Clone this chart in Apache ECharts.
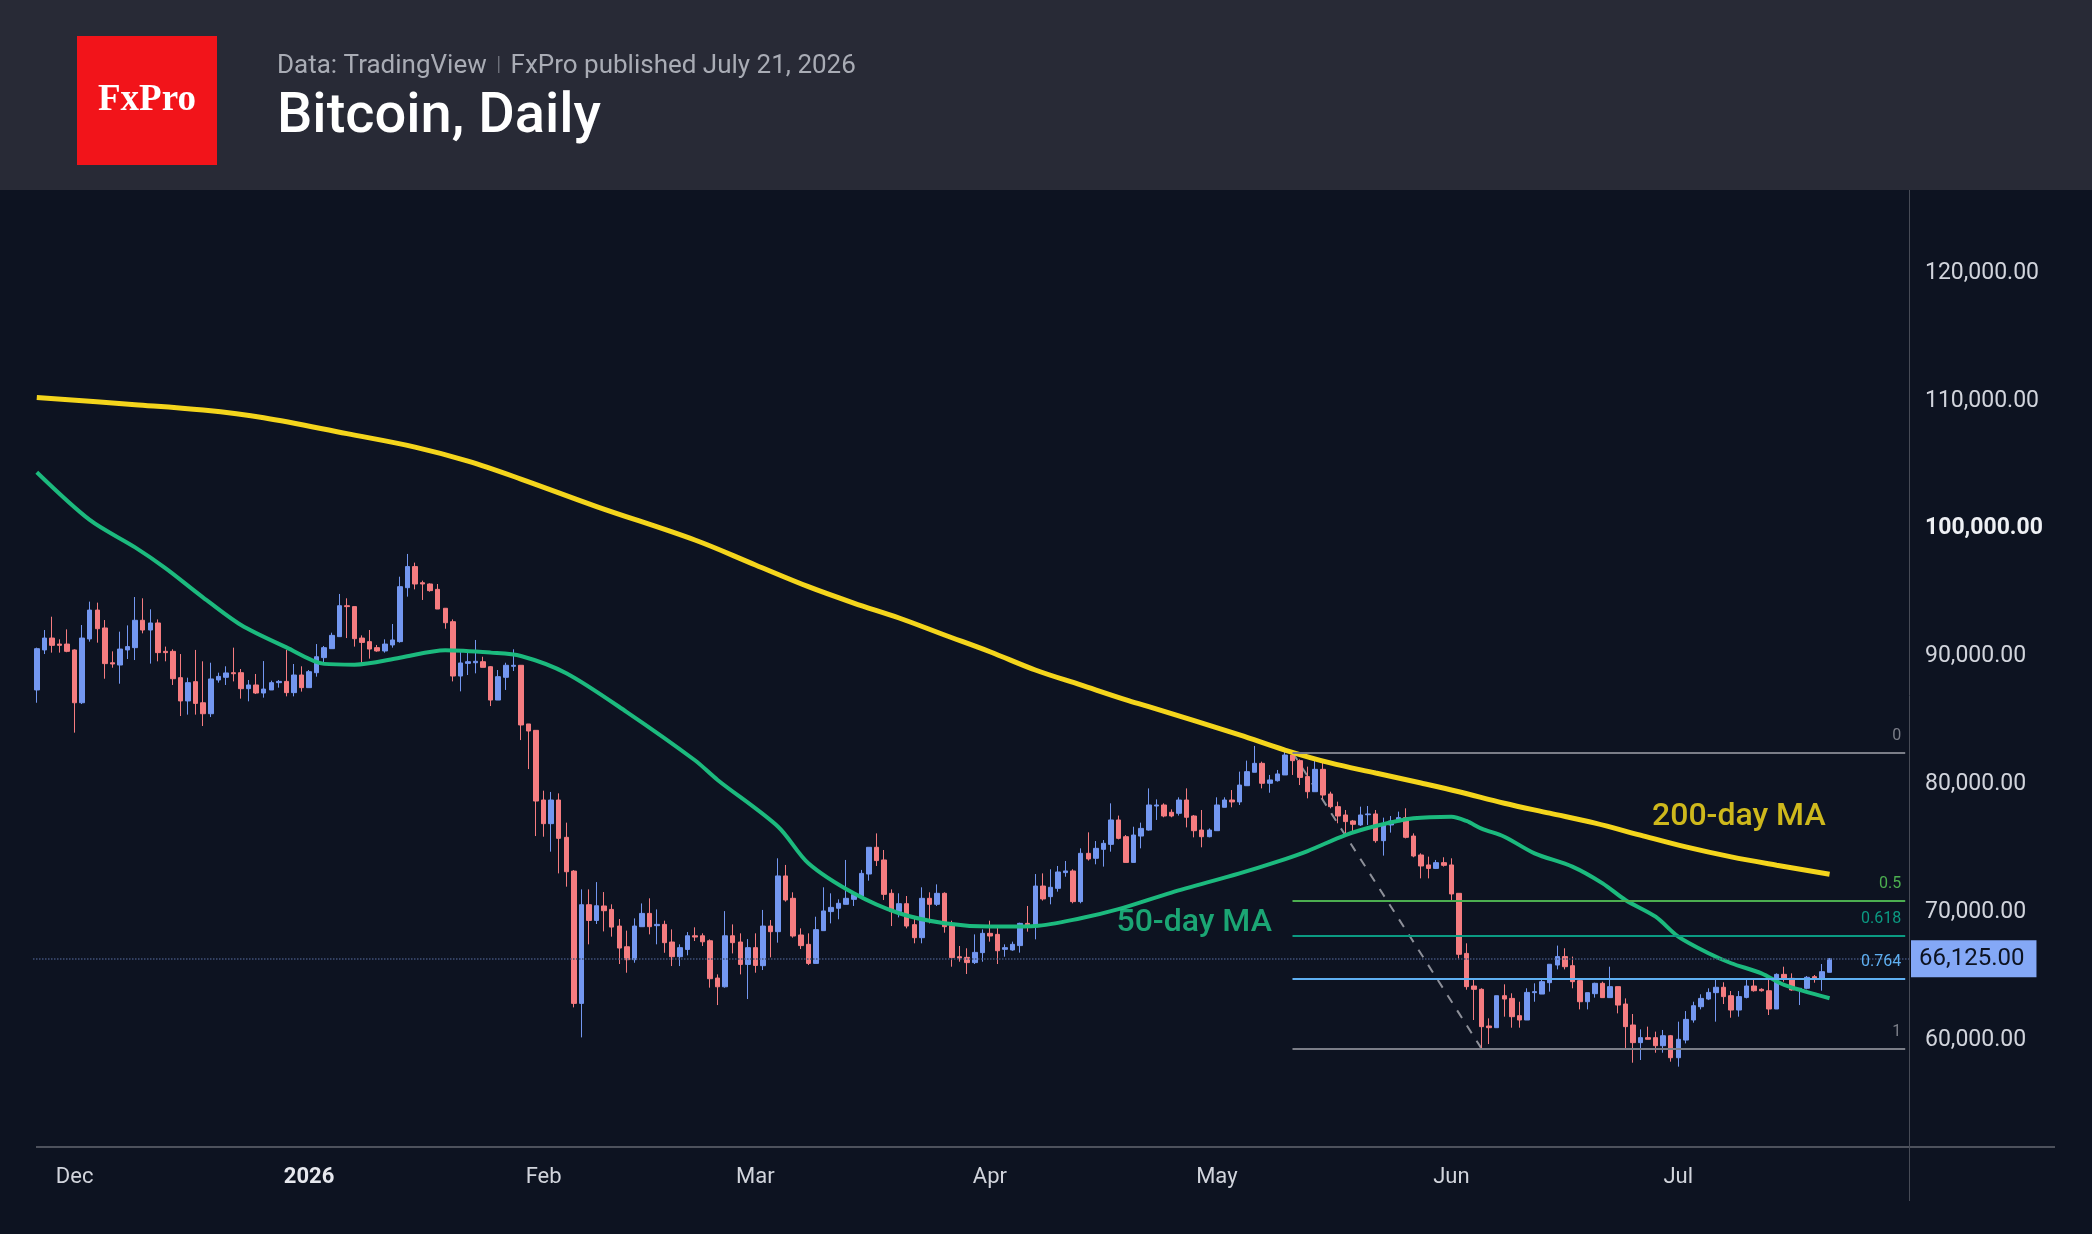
<!DOCTYPE html>
<html>
<head>
<meta charset="utf-8">
<title>Bitcoin, Daily</title>
<script src="https://cdn.jsdelivr.net/npm/echarts@6/dist/echarts.min.js"></script>
<style>
  html, body { margin: 0; padding: 0; background: #0d1321; }
  #chart { width: 2092px; height: 1234px; }
</style>
</head>
<body>
<div id="chart"></div>
<script>
// daily candles, first one on 2025-11-26, last one on 2026-07-21
// each row: [open, high, low, close]
const ohlc = [
  [87150, 90460, 86150, 90380], [90280, 91840, 89960, 91210], [91210, 92880, 90070, 90640], [90740, 91110, 90070, 90640], [90740, 91890, 90100, 90170],
  // Dec
  [90280, 90330, 83810, 86150], [86150, 92230, 86050, 91210], [91140, 94060, 90930, 93400], [93400, 93980, 90850, 91940], [92000, 92620, 88030, 89210],
  [89280, 90170, 88890, 89180], [89100, 91710, 87640, 90350], [90280, 92200, 89570, 90540], [90460, 94420, 89490, 92600], [92600, 94320, 91580, 91840],
  [91840, 93460, 89210, 92390], [92390, 92670, 89390, 90070], [90170, 90540, 89390, 90070], [90170, 90330, 87540, 88030], [88110, 89960, 85110, 86290],
  [86290, 88110, 85220, 87720], [87800, 90280, 85220, 86100], [86150, 89390, 84330, 85290], [85290, 89280, 85030, 88010], [87930, 88500, 87720, 88210],
  [88140, 89000, 87540, 88480], [88500, 90460, 87820, 88420], [88500, 88790, 86470, 87250], [87250, 87930, 86260, 87540], [87540, 88400, 86830, 86910],
  [86910, 89410, 86550, 87220], [87150, 87880, 87150, 87720], [87720, 87930, 87330, 87820], [87820, 90280, 86650, 86940], [86940, 89180, 86650, 88320],
  [88320, 89000, 87020, 87330],
  // Jan
  [87330, 88710, 87330, 88580], [88500, 90740, 88190, 89750], [89680, 90590, 89280, 90460], [90380, 91630, 90380, 91420], [91320, 94660, 91320, 93740],
  [93740, 94320, 91210, 93670], [93670, 93670, 90540, 91160], [91210, 91420, 89210, 90870], [90930, 91840, 89600, 90350], [90460, 90670, 90140, 90200],
  [90200, 91110, 90070, 90740], [90670, 92310, 90460, 91060], [90930, 96010, 90850, 95230], [95150, 97790, 94450, 96800], [96800, 97110, 95020, 95440],
  [95540, 95700, 94190, 95440], [95440, 95490, 94840, 94920], [95020, 95440, 93480, 93480], [93540, 93540, 91940, 92410], [92490, 92670, 87820, 88240],
  [88240, 90330, 87040, 89260], [89230, 90140, 88320, 89360], [89280, 91060, 88450, 89390], [89360, 89750, 88920, 88920], [88970, 89020, 85890, 86360],
  [86360, 88710, 86360, 88190], [88140, 89280, 87150, 89080], [89000, 90330, 88630, 89080], [89080, 89080, 83230, 84410], [84490, 84490, 80960, 83940],
  [83990, 83990, 75720, 78460],
  // Feb
  [78540, 79270, 75670, 76690], [76690, 79170, 74500, 78540], [78540, 79060, 72800, 75540], [75620, 76770, 71760, 72930], [72980, 73060, 62320, 62630],
  [62630, 71550, 59970, 70350], [70350, 71550, 67250, 69120], [69120, 72120, 68840, 70270], [70250, 71340, 68260, 69880], [69980, 70380, 67850, 68600],
  [68680, 69230, 65710, 66960], [67060, 68320, 65030, 66050], [66050, 69280, 65810, 68680], [68630, 70450, 68630, 69670], [69670, 70850, 68030, 68630],
  [68710, 69980, 67250, 68810], [68810, 69100, 66590, 67380], [67430, 68420, 65550, 66280], [66280, 67250, 65550, 66990], [66850, 68210, 66390, 67920],
  [67920, 68580, 67510, 67820], [67920, 68110, 67120, 67450], [67530, 67640, 63860, 64560], [64610, 64900, 62500, 63930], [63930, 69850, 63860, 67920],
  [67920, 68810, 66540, 67380], [67430, 68110, 64900, 65680], [65680, 67660, 62970, 66990],
  // Mar
  [66990, 68110, 65030, 65600], [65580, 69940, 65240, 68680], [68680, 69150, 66230, 68240], [68240, 73980, 67380, 72600], [72600, 73460, 70590, 70720],
  [70850, 71320, 67770, 67900], [67980, 68500, 66880, 67150], [67250, 68110, 65630, 65760], [65760, 69410, 65760, 68400], [68320, 71710, 68320, 69860],
  [69810, 71240, 68890, 70140], [70070, 70770, 69210, 70460], [70380, 73850, 70380, 70850], [70770, 71240, 70250, 71140], [71030, 73070, 70850, 72800],
  [72750, 74840, 72230, 74840], [74840, 75930, 73380, 73800], [73850, 74630, 70720, 71160], [71240, 71550, 68680, 69810], [69810, 71240, 69360, 70430],
  [70430, 71030, 68500, 68680], [68790, 69470, 67330, 67770], [67770, 71710, 67330, 70850], [70850, 71320, 68890, 70380], [70380, 71940, 70250, 71240],
  [71240, 71320, 68160, 68630], [68710, 69100, 65500, 66210], [66280, 67120, 65890, 66180], [66230, 66940, 64930, 65820], [65820, 68030, 65710, 66620],
  [66600, 68420, 65890, 68110],
  // Apr
  [68110, 69100, 67460, 67900], [68030, 68550, 65710, 66750], [66860, 67250, 66280, 66990], [66810, 67460, 66750, 67250], [67150, 68940, 66600, 68890],
  [68890, 70250, 68240, 68680], [68680, 72750, 67640, 71810], [71810, 72800, 70670, 70800], [70980, 73120, 70380, 71710], [71630, 73380, 71370, 72910],
  [72860, 73770, 72540, 72990], [72990, 73120, 70460, 70590], [70590, 74760, 70460, 74370], [74370, 76010, 73800, 73930], [73980, 75330, 73510, 74760],
  [74680, 75410, 73330, 75150], [75070, 78280, 74500, 76980], [76980, 77320, 75460, 75540], [75670, 75800, 73660, 73660], [73660, 76450, 73660, 75800],
  [75720, 76770, 74760, 76320], [76190, 79450, 76140, 78150], [78070, 78590, 76980, 78150], [78150, 78280, 77190, 77290], [77580, 77810, 77190, 77290],
  [77500, 78750, 77320, 78540], [78540, 79450, 76400, 77190], [77290, 77370, 75620, 76140], [76190, 77760, 74840, 75670], [75670, 76320, 75620, 76190],
  // May
  [76140, 78750, 76140, 78150], [77970, 78750, 77970, 78540], [78540, 79320, 77970, 78390], [78390, 80760, 78150, 79710], [79660, 81620, 79660, 80760],
  [80710, 82770, 80710, 81410], [81410, 81540, 79450, 79850], [79850, 80500, 79110, 80110], [80050, 80890, 79980, 80580], [80500, 82400, 80500, 82060],
  [82060, 82320, 80500, 81620], [81620, 81720, 79710, 80310], [80370, 81150, 78670, 79190], [79190, 81800, 79190, 80940], [80940, 81460, 78590, 78930],
  [79010, 79190, 77890, 78020], [78020, 78410, 76720, 77290], [77370, 77760, 75930, 76850], [76900, 76980, 76060, 76640], [76590, 78020, 76510, 77370],
  [77390, 78070, 76590, 77450], [77450, 77760, 75200, 75360], [75360, 77160, 74190, 76590], [76590, 77290, 75990, 76900], [76850, 77630, 76820, 77160],
  [77160, 77890, 75540, 75620], [75720, 75930, 74060, 74160], [74240, 74370, 72410, 73380], [73460, 74110, 72410, 73190], [73190, 73850, 73140, 73640],
  [73640, 74060, 73330, 73430],
  // Jun
  [73460, 73980, 70590, 71190], [71240, 71240, 66070, 66470], [66540, 67330, 63700, 63940], [63990, 64590, 61330, 63730], [63730, 63810, 59110, 60810],
  [60860, 61460, 59450, 60730], [60730, 63230, 60730, 63230], [63230, 64120, 61590, 62970], [63020, 63420, 60730, 61590], [61670, 62760, 60730, 61330],
  [61330, 63810, 61330, 63490], [63470, 64200, 62760, 63550], [63360, 64460, 63360, 64330], [64250, 65690, 63550, 65690], [65630, 67150, 65290, 66290],
  [66290, 66940, 65290, 65500], [65580, 66290, 63810, 64330], [64410, 64460, 62160, 62760], [62760, 63470, 62160, 63470], [63390, 64250, 63080, 64200],
  [64200, 64330, 63080, 63080], [63080, 65500, 63080, 63940], [63940, 63940, 61850, 62500], [62580, 63020, 59030, 60810], [60940, 61800, 57990, 59560],
  [59560, 60600, 58200, 59950], [59950, 60810, 59820, 59820], [59950, 60420, 58770, 59320], [59320, 60550, 58770, 60100], [60100, 60160, 58070, 58380],
  // Jul
  [58380, 61200, 57680, 59820], [59760, 62030, 59500, 61380], [61330, 62760, 61120, 62450], [62370, 63340, 62160, 63020], [62970, 63810, 62890, 63490],
  [63470, 64460, 61200, 63890], [63890, 64280, 62580, 63160], [63230, 63600, 61510, 62110], [62110, 63600, 61590, 63160], [63100, 64460, 63020, 63990],
  [63990, 64460, 63550, 63620], [63730, 63810, 63550, 63620], [63620, 64590, 61720, 62190], [62190, 64980, 62190, 64900], [64900, 65500, 64330, 64510],
  [64590, 64980, 63620, 63680], [63730, 63810, 62500, 63810], [63810, 64770, 63730, 64670], [64720, 64850, 64250, 64590], [64540, 65710, 63620, 65110],
  [65060, 66180, 65060, 66125]
];

// moving averages
const ma50 = [
  ['2025-11-26', 104180], ['2025-12-03', 100450], ['2025-12-09', 98300], ['2025-12-13', 96680], ['2025-12-18', 94380],
  ['2025-12-23', 92230], ['2025-12-29', 90480], ['2026-01-03', 89190], ['2026-01-07', 89130], ['2026-01-13', 89670],
  ['2026-01-19', 90260], ['2026-01-25', 90070], ['2026-01-29', 89810], ['2026-02-04', 88460], ['2026-02-12', 85420],
  ['2026-02-21', 81650], ['2026-02-24', 80110], ['2026-03-04', 76450], ['2026-03-08', 73590], ['2026-03-14', 71240],
  ['2026-03-20', 69680], ['2026-03-26', 68900], ['2026-04-01', 68640], ['2026-04-07', 68690], ['2026-04-13', 69290],
  ['2026-04-18', 70000], ['2026-04-25', 71300], ['2026-05-04', 72800], ['2026-05-09', 73720], ['2026-05-13', 74550],
  ['2026-05-18', 75800], ['2026-05-22', 76510], ['2026-05-27', 77110], ['2026-06-01', 77240], ['2026-06-03', 76900],
  ['2026-06-05', 76300], ['2026-06-08', 75670], ['2026-06-12', 74370], ['2026-06-17', 73330], ['2026-06-21', 72020],
  ['2026-06-24', 70720], ['2026-06-28', 69410], ['2026-07-01', 67850], ['2026-07-05', 66550], ['2026-07-08', 65770],
  ['2026-07-12', 64980], ['2026-07-15', 64070], ['2026-07-21', 63030]
];
const ma200 = [
  ['2025-11-26', 110020], ['2025-12-09', 109470], ['2025-12-18', 109050], ['2025-12-26', 108450], ['2026-01-06', 107200],
  ['2026-01-15', 106150], ['2026-01-22', 105050], ['2026-01-29', 103650], ['2026-02-08', 101500], ['2026-02-21', 98880],
  ['2026-03-01', 96930], ['2026-03-08', 95230], ['2026-03-14', 93950], ['2026-03-20', 92780], ['2026-03-26', 91450],
  ['2026-04-01', 90140], ['2026-04-07', 88710], ['2026-04-13', 87540], ['2026-04-19', 86370], ['2026-04-22', 85840],
  ['2026-05-04', 83630], ['2026-05-10', 82450], ['2026-05-16', 81440], ['2026-05-22', 80650], ['2026-05-28', 79870],
  ['2026-06-02', 79190], ['2026-06-08', 78290], ['2026-06-14', 77510], ['2026-06-20', 76730], ['2026-06-26', 75790],
  ['2026-07-02', 74870], ['2026-07-08', 74090], ['2026-07-14', 73440], ['2026-07-21', 72730]
];

// fibonacci retracement from the May high to the June low
const fibRatios = ['0', '0.5', '0.618', '0.764', '1'];
const fibPrices = [82257, 70672, 67938, 64555, 59087];
const fibStart = '2026-05-11';
const swingLine = [['2026-05-11', 82257], ['2026-06-05', 59087]];
const lastPrice = 66125;
const priceTicks = [60000, 70000, 80000, 90000, 100000, 110000, 120000];
const maTags = [['2026-04-28', 69150, '50-day MA'], ['2026-07-09', 77370, '200-day MA']];

const fibColors = ['#7b7e88', '#4caf50', '#0b9a82', '#5fb0f2', '#7b7e88'];
const tagColors = ['#1fcb89', '#ffe21c'];
const upColor = '#7397f0';
const downColor = '#f57c80';

// calendar days on the x axis, a few empty ones after the last candle
const dates = [];
const t0 = Date.UTC(2025, 10, 26);
for (let i = 0; i < 248; i++) {
  dates.push(new Date(t0 + i * 86400000).toISOString().slice(0, 10));
}
const monthNames = ['Jan', 'Feb', 'Mar', 'Apr', 'May', 'Jun', 'Jul', 'Aug', 'Sep', 'Oct', 'Nov', 'Dec'];

const fmtPrice = v => v.toLocaleString('en-US', { minimumFractionDigits: 2, maximumFractionDigits: 2 });

const chart = echarts.init(document.getElementById('chart'));

const fibMarks = fibPrices.map((p, i) => [
  {
    coord: [fibStart, p],
    lineStyle: { color: fibColors[i], width: 2, type: 'solid' },
    label: { formatter: fibRatios[i], color: fibColors[i] }
  },
  { coord: [dates[dates.length - 1], p] }
]);

const option = {
  backgroundColor: '#0d1321',
  animation: false,
  textStyle: { fontFamily: 'Roboto' },
  grid: { left: 33, top: 190, width: 1876, height: 957, outerBoundsMode: 'none' },
  xAxis: {
    type: 'category',
    data: dates,
    boundaryGap: true,
    axisLine: { show: false },
    axisTick: { show: false },
    splitLine: { show: false },
    axisLabel: {
      interval: (idx, val) => val.slice(8) === '01',
      margin: 19,
      color: '#d1d4dc',
      fontSize: 22,
      fontFamily: 'Roboto',
      formatter: val => {
        const m = +val.slice(5, 7);
        return m === 1 ? '{y|' + val.slice(0, 4) + '}' : monthNames[m - 1];
      },
      rich: { y: { fontSize: 22, fontWeight: 'bold', color: '#e6e8ee', fontFamily: 'Roboto' } }
    }
  },
  yAxis: {
    type: 'value',
    position: 'right',
    min: 51395,
    max: 126262,
    scale: true,
    axisLine: { show: false },
    axisTick: { show: false },
    splitLine: { show: false },
    axisLabel: {
      customValues: priceTicks,
      margin: 16,
      padding: [6, 0, 0, 0],
      color: '#d1d4dc',
      fontSize: 23,
      fontFamily: 'Roboto',
      formatter: v => v === 100000 ? '{b|' + fmtPrice(v) + '}' : fmtPrice(v),
      rich: { b: { fontSize: 23, fontWeight: 'bold', color: '#eef0f4', fontFamily: 'Roboto' } }
    }
  },
  series: [
    {
      name: 'swing',
      type: 'line',
      data: swingLine,
      symbol: 'none',
      z: 1,
      lineStyle: { color: '#8d9099', width: 2, type: [9, 9] },
      silent: true
    },
    {
      name: 'BTC',
      type: 'candlestick',
      data: ohlc.map(r => [r[0], r[3], r[2], r[1]]),
      barWidth: 5,
      z: 3,
      itemStyle: {
        color: upColor,
        color0: downColor,
        borderColor: upColor,
        borderColor0: downColor,
        borderWidth: 1
      },
      markLine: {
        silent: true,
        symbol: ['none', 'none'],
        animation: false,
        label: {
          position: 'insideEndTop',
          fontSize: 16,
          fontFamily: 'Roboto',
          distance: [4, 9]
        },
        data: fibMarks.concat([
          {
            yAxis: lastPrice,
            lineStyle: { color: '#40527a', width: 1.5, type: 'dotted' },
            label: {
              position: 'end',
              distance: 2,
              formatter: fmtPrice(lastPrice),
              backgroundColor: '#84a8f6',
              color: '#0d1321',
              fontSize: 24,
              padding: [7, 12, 6, 8],
              fontFamily: 'Roboto'
            }
          }
        ])
      }
    },
    {
      name: '200-day MA',
      type: 'line',
      data: ma200,
      symbol: 'none',
      smooth: 0.35,
      z: 4,
      lineStyle: { color: '#f4d51c', width: 5 },
      silent: true
    },
    {
      name: '50-day MA',
      type: 'line',
      data: ma50,
      symbol: 'none',
      smooth: 0.3,
      z: 4,
      lineStyle: { color: '#1cba7e', width: 4 },
      silent: true
    },
    {
      name: 'tags',
      type: 'scatter',
      symbolSize: 1,
      z: 5,
      silent: true,
      itemStyle: { color: 'rgba(0,0,0,0)' },
      data: maTags.map((t, i) => ({
        value: [t[0], t[1]],
        label: { formatter: t[2], color: tagColors[i] }
      })),
      label: {
        show: true,
        position: 'top',
        distance: -19,
        fontSize: 32,
        fontWeight: 500,
        fontFamily: 'Roboto',
        textBorderWidth: 0
      }
    }
  ],
  graphic: [
    { type: 'rect', z: -1, shape: { x: 0, y: 0, width: 2092, height: 190 }, style: { fill: '#282a36' } },
    { type: 'rect', shape: { x: 77, y: 36, width: 140, height: 129 }, style: { fill: '#f2141a' } },
    {
      type: 'text', x: 147, y: 100,
      style: { text: 'FxPro', fill: '#ffffff', font: 'bold 37px "Liberation Serif"', align: 'center', verticalAlign: 'middle' }
    },
    {
      type: 'text', x: 277, y: 66,
      style: {
        text: 'Data: TradingView {s||} FxPro published July 21, 2026',
        fill: '#a9acb5', fontSize: 26, fontFamily: 'Roboto', verticalAlign: 'middle',
        rich: { s: { fill: '#6c6f79', fontSize: 20, fontFamily: 'Roboto', padding: [0, 3] } }
      }
    },
    {
      type: 'text', x: 277, y: 118,
      style: { text: 'Bitcoin, Daily', fill: '#ffffff', fontSize: 56, fontWeight: 500, fontFamily: 'Roboto', verticalAlign: 'middle' }
    },
    { type: 'line', shape: { x1: 36, y1: 1147, x2: 2055, y2: 1147 }, style: { stroke: '#4d515c', lineWidth: 2 } },
    { type: 'line', shape: { x1: 1909.5, y1: 190, x2: 1909.5, y2: 1201 }, style: { stroke: '#474b56', lineWidth: 1 } }
  ]
};

chart.setOption(option);
</script>
</body>
</html>
